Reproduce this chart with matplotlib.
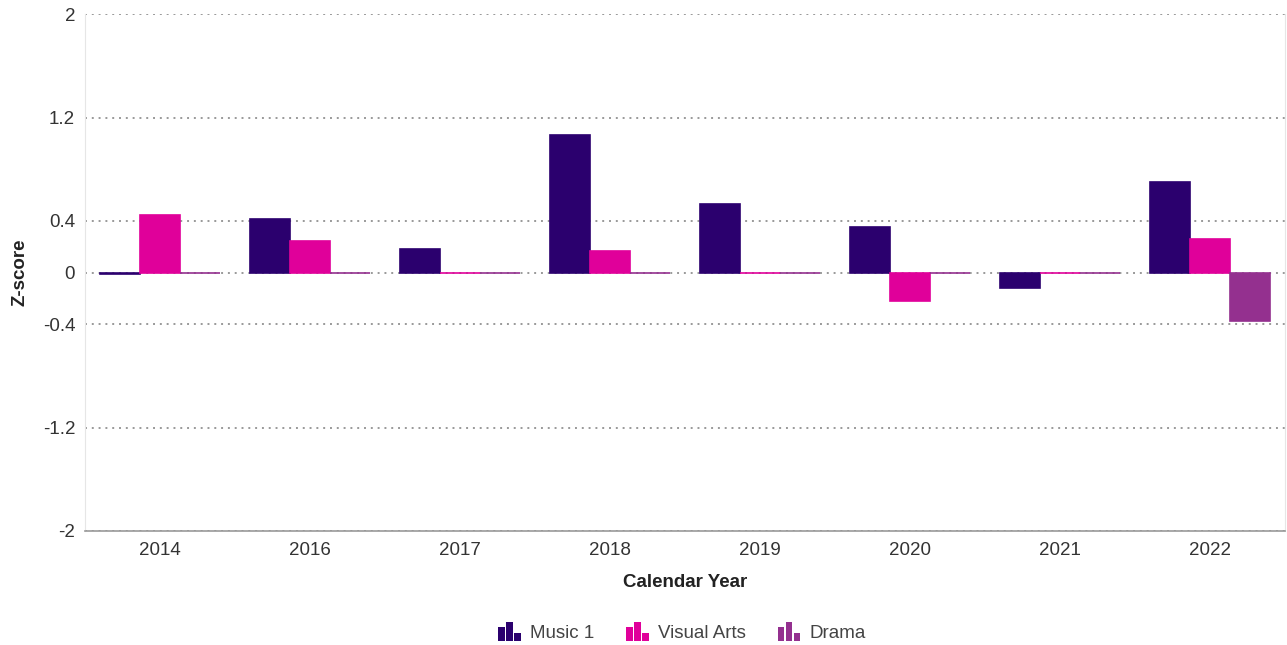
import numpy as np
import matplotlib
matplotlib.use("Agg")
from matplotlib import pyplot as plt
from matplotlib.legend_handler import HandlerBase
from matplotlib.patches import Rectangle

years = ['2014', '2016', '2017', '2018', '2019', '2020', '2021', '2022']
music = [-0.01, 0.414, 0.184, 1.064, 0.53, 0.354, -0.117, 0.703]
visual_arts = [0.445, 0.244, 0.0, 0.169, 0.0, -0.218, 0.0, 0.257]
drama = [0.0, 0.0, 0.0, 0.0, 0.0, 0.0, 0.0, -0.378]
series_names = ['Music 1', 'Visual Arts', 'Drama']
colors = ['#2b006e', '#e0009a', '#94308f']
yticks = [2, 1.2, 0.4, 0, -0.4, -1.2, -2]

plt.rcParams['font.family'] = ['Liberation Sans', 'DejaVu Sans']


class BarIcon(HandlerBase):
    # little three-bar glyph like the original legend
    def create_artists(self, legend, orig_handle, xdescent, ydescent,
                       width, height, fontsize, trans):
        c = orig_handle.get_facecolor()
        w = width / 3.4
        hs = [0.8, 1.15, 0.45]
        out = []
        for i, h in enumerate(hs):
            r = Rectangle((xdescent + i * w * 1.2, -ydescent - 1), w, height * h,
                          facecolor=c, edgecolor='none', transform=trans)
            out.append(r)
        return out


fig = plt.figure(figsize=(12.87, 6.45), dpi=100)
ax = fig.add_axes([0.066, 0.177, 0.9324, 0.801])

x = np.arange(len(years))
bw = 0.267
handles = []
for i, (vals, c) in enumerate(zip([music, visual_arts, drama], colors)):
    b = ax.bar(x + (i - 1) * bw, vals, bw, color=c, edgecolor=c, linewidth=1.2,
               label=series_names[i], zorder=3)
    handles.append(b.patches[0])

ax.set_xlim(-0.5, len(years) - 0.5)
ax.set_ylim(-2, 2)
ax.set_yticks(yticks)
ax.set_yticklabels([str(t) for t in yticks])
ax.set_xticks(x)
ax.set_xticklabels(years)
ax.grid(axis='y', linestyle=(0, (1, 2.5)), color='#999999', linewidth=1.4, zorder=1)
ax.tick_params(axis='both', length=0, labelsize=13.5, colors='#333333', pad=8)
ax.tick_params(axis='y', pad=7)

ax.spines['top'].set_visible(False)
ax.spines['left'].set_color('#e6e6e6')
ax.spines['right'].set_color('#e6e6e6')
ax.spines['bottom'].set_color('#999999')
ax.spines['bottom'].set_linewidth(1.2)

ax.set_xlabel('Calendar Year', fontsize=13.5, fontweight='bold', color='#222222', labelpad=11)
ax.set_ylabel('Z-score', fontsize=13.5, fontweight='bold', color='#222222', labelpad=10)

fig.legend(handles, series_names, loc='center', bbox_to_anchor=(0.53, 0.02),
           ncol=3, frameon=False, fontsize=13.5, labelcolor='#444444',
           handler_map={Rectangle: BarIcon()}, handlelength=1.2, handleheight=1.0,
           columnspacing=1.7, handletextpad=0.5)

fig.savefig('out.png', dpi=100)
